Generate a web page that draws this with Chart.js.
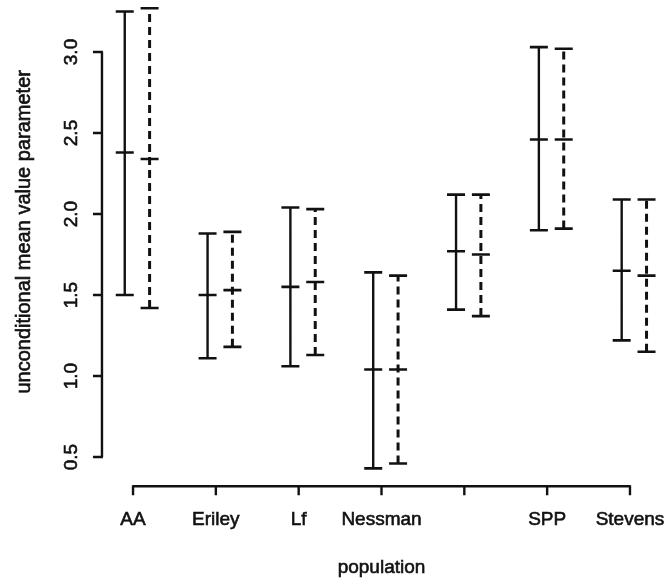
<!DOCTYPE html>
<html>
<head>
<meta charset="utf-8">
<script src="https://cdn.jsdelivr.net/npm/chart.js@4"></script>
<style>
html,body{margin:0;padding:0;background:#fff;}
canvas{display:block;}
</style>
</head>
<body>
<canvas id="c" width="667" height="584"></canvas>
<script>
const categories = ['AA', 'Eriley', 'Lf', 'Nessman', '', 'SPP', 'Stevens'];
const solidMean  = [2.38, 1.50, 1.55, 1.04, 1.77, 2.46, 1.65];
const solidLower = [1.50, 1.11, 1.06, 0.43, 1.41, 1.90, 1.22];
const solidUpper = [3.25, 1.88, 2.04, 1.64, 2.12, 3.03, 2.09];
const dashedMean  = [2.34, 1.53, 1.58, 1.04, 1.75, 2.46, 1.62];
const dashedLower = [1.42, 1.18, 1.13, 0.46, 1.37, 1.91, 1.15];
const dashedUpper = [3.27, 1.89, 2.03, 1.62, 2.12, 3.02, 2.09];
const yTicks = [0.5, 1.0, 1.5, 2.0, 2.5, 3.0];
const yTickLabels = ['0.5', '1.0', '1.5', '2.0', '2.5', '3.0'];
const xTitle = 'population';
const yTitle = 'unconditional mean value parameter';

const solidOffset = -0.1, dashedOffset = 0.2;
const INK = '#111';
const FONT = '19px "Liberation Sans", Arial, sans-serif';
const TITLE_FONT = '20px "Liberation Sans", Arial, sans-serif';

function whiskerData(lower, upper, off) {
  const d = [];
  lower.forEach((lo, i) => {
    const x = i + 1 + off;
    d.push({x: x, y: lo}, {x: x, y: upper[i]}, {x: x, y: null});
  });
  return d;
}
function meanData(mean, off) {
  return mean.map((m, i) => ({x: i + 1 + off, y: m}));
}

function heavyText(ctx, t, x, y) {
  ctx.fillText(t, x, y);
  ctx.strokeText(t, x, y);
}

const rAxes = {
  id: 'rAxes',
  afterDraw(chart) {
    const ctx = chart.ctx;
    const xs = chart.scales.x, ys = chart.scales.y;
    ctx.save();
    ctx.strokeStyle = INK;
    ctx.fillStyle = INK;
    ctx.lineWidth = 2.4;
    ctx.setLineDash([]);
    // y axis
    const ax = xs.getPixelForValue(0.625);
    ctx.beginPath();
    ctx.moveTo(ax, ys.getPixelForValue(yTicks[0]));
    ctx.lineTo(ax, ys.getPixelForValue(yTicks[yTicks.length - 1]));
    yTicks.forEach(v => {
      const py = ys.getPixelForValue(v);
      ctx.moveTo(ax + 1, py);
      ctx.lineTo(ax - 9, py);
    });
    ctx.stroke();
    // x axis
    const ay = chart.chartArea.bottom;
    ctx.beginPath();
    ctx.moveTo(xs.getPixelForValue(1), ay);
    ctx.lineTo(xs.getPixelForValue(categories.length), ay);
    categories.forEach((c, i) => {
      const px = xs.getPixelForValue(i + 1);
      ctx.moveTo(px, ay - 1);
      ctx.lineTo(px, ay + 9);
    });
    ctx.stroke();

    ctx.font = FONT;
    ctx.textAlign = 'center';
    ctx.textBaseline = 'middle';
    ctx.lineWidth = 0.6;
    yTicks.forEach((v, i) => {
      const py = ys.getPixelForValue(v);
      ctx.save();
      ctx.translate(ax - 30, py);
      ctx.rotate(-Math.PI / 2);
      heavyText(ctx, yTickLabels[i], 0, 0);
      ctx.restore();
    });
    categories.forEach((c, i) => {
      const px = xs.getPixelForValue(i + 1);
      heavyText(ctx, c, px, ay + 34);
    });
    // titles
    heavyText(ctx, xTitle, xs.getPixelForValue(4), ay + 82);
    ctx.font = TITLE_FONT;
    ctx.save();
    ctx.translate(24, ys.getPixelForValue(1.89));
    ctx.rotate(-Math.PI / 2);
    heavyText(ctx, yTitle, 0, 0);
    ctx.restore();
    ctx.restore();
  }
};

const barStyle = {
  showLine: true,
  spanGaps: false,
  borderColor: INK,
  backgroundColor: INK,
  pointStyle: 'line',
  pointRadius: 9,
  pointHoverRadius: 9,
  pointBorderWidth: 2.6,
  pointBorderColor: INK
};

new Chart(document.getElementById('c'), {
  type: 'scatter',
  data: {
    datasets: [
      Object.assign({label: 'solid', data: whiskerData(solidLower, solidUpper, solidOffset), borderWidth: 2.4}, barStyle),
      Object.assign({label: 'dashed', data: whiskerData(dashedLower, dashedUpper, dashedOffset), borderWidth: 3, borderDash: [8, 5]}, barStyle),
      Object.assign({label: 'solid mean', data: meanData(solidMean, solidOffset)}, barStyle, {showLine: false}),
      Object.assign({label: 'dashed mean', data: meanData(dashedMean, dashedOffset)}, barStyle, {showLine: false})
    ]
  },
  options: {
    responsive: false,
    devicePixelRatio: 1,
    animation: false,
    layout: {autoPadding: false, padding: {left: 99.9, right: 3.9, top: 3.4, bottom: 97.8}},
    plugins: {legend: {display: false}, tooltip: {enabled: false}},
    scales: {
      x: {type: 'linear', min: 0.6, max: 7.4, display: false},
      y: {type: 'linear', min: 0.32, max: 3.3, display: false}
    }
  },
  plugins: [rAxes]
});
</script>
</body>
</html>
